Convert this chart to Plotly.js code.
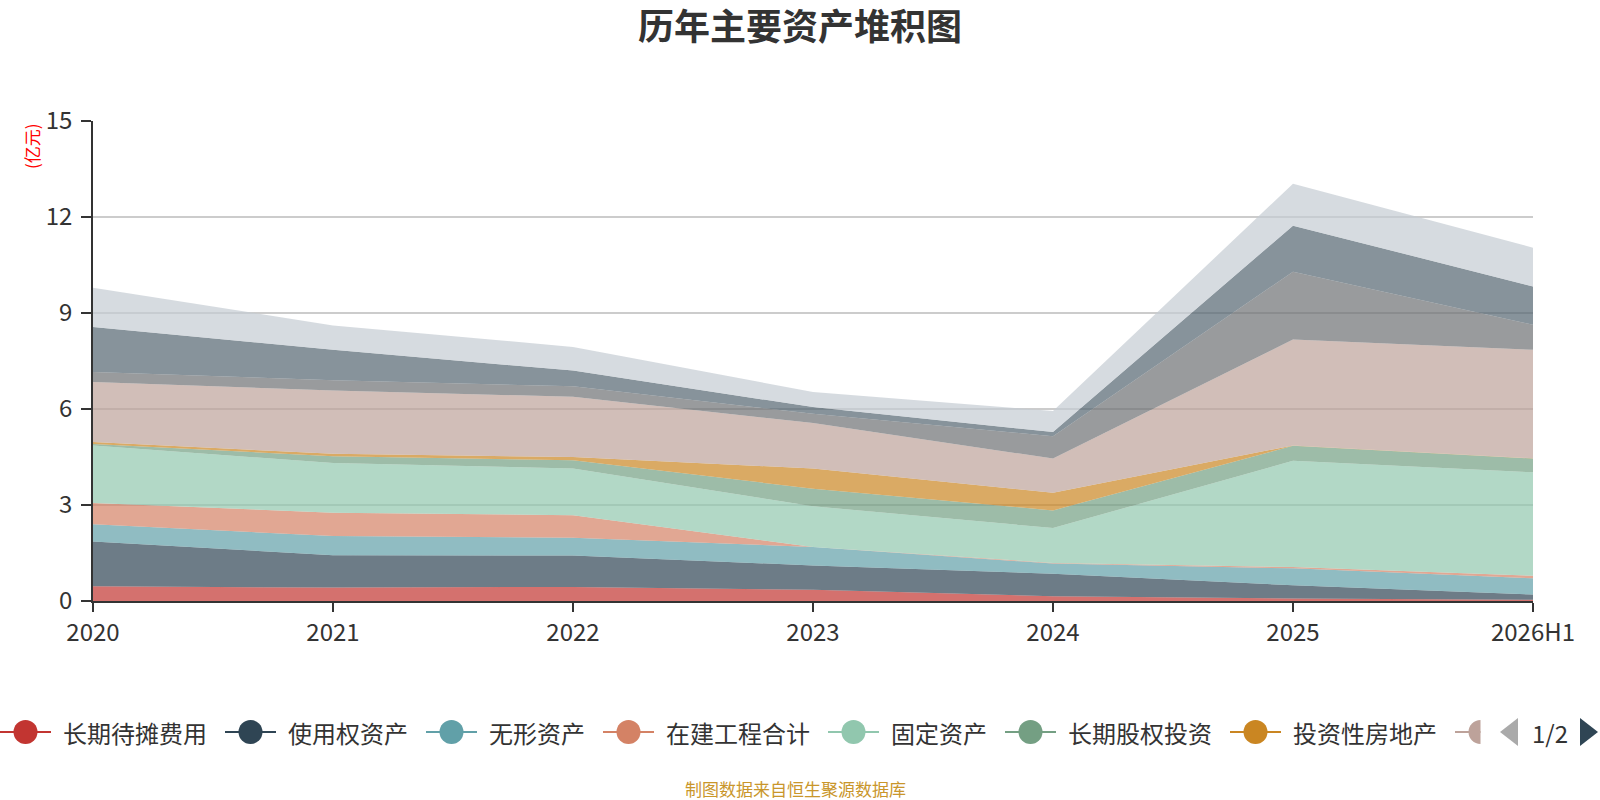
<!DOCTYPE html>
<html>
<head>
<meta charset="utf-8">
<script src="https://cdn.plot.ly/plotly-3.0.1.min.js"></script>
<style>
  body { margin: 0; background: #fff; }
  #chart { width: 1600px; height: 800px; }
</style>
</head>
<body>
<div id="chart"></div>
<script>
// Categories (report periods)
const years = ['2020', '2021', '2022', '2023', '2024', '2025', '2026H1'];

// Series values, 亿元 (bottom of the stack first)
const changQiDaiTan = [0.46, 0.42, 0.44, 0.35, 0.15, 0.08, 0.04];
const shiYongQuan = [1.40, 1.01, 0.98, 0.76, 0.70, 0.41, 0.16];
const wuXing = [0.54, 0.60, 0.56, 0.58, 0.32, 0.53, 0.51];
const zaiJian = [0.66, 0.73, 0.70, 0.00, 0.02, 0.04, 0.08];
const guDing = [1.80, 1.55, 1.46, 1.27, 1.09, 3.32, 3.23];
const guQuanTouZi = [0.05, 0.21, 0.26, 0.55, 0.55, 0.47, 0.43];
const fangDiChan = [0.06, 0.08, 0.10, 0.63, 0.55, 0.01, 0.01];
const cunHuo = [1.87, 1.98, 1.88, 1.42, 1.07, 3.31, 3.39];
const yingShou = [0.32, 0.32, 0.33, 0.29, 0.70, 2.12, 0.78];
const jiaoYiXing = [1.40, 0.95, 0.49, 0.21, 0.13, 1.44, 1.20];
const huoBi = [1.23, 0.76, 0.74, 0.47, 0.66, 1.31, 1.21];

const seriesNames = [
  '长期待摊费用', '使用权资产', '无形资产', '在建工程合计', '固定资产', '长期股权投资',
  '投资性房地产', '存货', '应收账款', '交易性金融资产', '货币资金',
];
const seriesValues = [
  changQiDaiTan, shiYongQuan, wuXing, zaiJian, guDing, guQuanTouZi,
  fangDiChan, cunHuo, yingShou, jiaoYiXing, huoBi,
];
const seriesColors = [
  '#c23531', '#2f4554', '#61a0a8', '#d48265', '#91c7ae', '#749f83',
  '#ca8622', '#bda29a', '#6e7074', '#546570', '#c4ccd3',
];

// Only the first page of the legend is visible in the picture
const legendPageSize = 7;

const fontFamily = '"Noto Sans CJK SC", "Noto Sans", sans-serif';

// plot area in pixels
const marginL = 93, marginR = 67, marginT = 121, marginB = 199;
const plotW = 1600 - marginL - marginR;
const plotH = 800 - marginT - marginB;

// pixel -> paper helpers for the hand made legend
function px2x(px) {
  return (px - marginL) / plotW;
}
function px2y(py) {
  return (800 - marginB - py) / plotH;
}

function hexToRgba(hex, alpha) {
  const n = parseInt(hex.slice(1), 16);
  return 'rgba(' + (n >> 16) + ',' + ((n >> 8) & 255) + ',' + (n & 255) + ',' + alpha + ')';
}

var traces = [];

// Stacked areas
seriesNames.forEach((name, i) => {
  traces.push({
    x: years,
    y: seriesValues[i],
    name: name,
    type: 'scatter',
    mode: 'lines',
    stackgroup: 'assets',
    line: { width: 0, color: seriesColors[i] },
    fillcolor: hexToRgba(seriesColors[i], 0.7),
    showlegend: false,
    hovertemplate: name + ': %{y:.2f}亿元<extra></extra>',
  });
});

/*
  Legend: line + circle icons, paged like the original (page 1 of 2)
*/
var shapes = [];
var annotations = [];
var legendY = 732;
var legendFont = 24;
var iconW = 51;
var circleR = 12;

var cursor = 0;
seriesNames.forEach((name, i) => {
  if (i > legendPageSize) return;
  var cx = cursor + iconW / 2;
  if (i < legendPageSize) {
    shapes.push({
      type: 'line', xref: 'paper', yref: 'paper',
      x0: px2x(cursor), x1: px2x(cursor + iconW), y0: px2y(legendY), y1: px2y(legendY),
      line: { color: seriesColors[i], width: 2 },
    });
    shapes.push({
      type: 'circle', xref: 'paper', yref: 'paper',
      x0: px2x(cx - circleR), x1: px2x(cx + circleR),
      y0: px2y(legendY + circleR), y1: px2y(legendY - circleR),
      fillcolor: seriesColors[i], line: { width: 0 },
    });
    annotations.push({
      text: name, xref: 'paper', yref: 'paper',
      x: px2x(cursor + iconW + 10), y: px2y(legendY),
      xanchor: 'left', yanchor: 'middle', showarrow: false,
      font: { family: fontFamily, size: legendFont, color: '#333333' },
    });
  } else {
    // next item, cut off by the pager
    shapes.push({
      type: 'line', xref: 'paper', yref: 'paper',
      x0: px2x(cursor), x1: px2x(cx), y0: px2y(legendY), y1: px2y(legendY),
      line: { color: seriesColors[i], width: 2 },
    });
    var k = 0.5523;
    var rx = circleR / plotW, ry = circleR / plotH;
    var X = px2x(cx), Y = px2y(legendY);
    shapes.push({
      type: 'path', xref: 'paper', yref: 'paper',
      path: 'M ' + X + ',' + (Y + ry) +
        ' C ' + (X - k * rx) + ',' + (Y + ry) + ' ' + (X - rx) + ',' + (Y + k * ry) + ' ' + (X - rx) + ',' + Y +
        ' C ' + (X - rx) + ',' + (Y - k * ry) + ' ' + (X - k * rx) + ',' + (Y - ry) + ' ' + X + ',' + (Y - ry) + ' Z',
      fillcolor: seriesColors[i], line: { width: 0 },
    });
  }
  cursor += iconW + 10 + name.length * legendFont + 20;
});

// pager arrows
shapes.push({
  type: 'path', xref: 'paper', yref: 'paper',
  path: 'M ' + px2x(1518) + ',' + px2y(legendY - 14) + ' L ' + px2x(1518) + ',' + px2y(legendY + 14) +
    ' L ' + px2x(1500) + ',' + px2y(legendY) + ' Z',
  fillcolor: '#aaaaaa', line: { width: 0 },
});
shapes.push({
  type: 'path', xref: 'paper', yref: 'paper',
  path: 'M ' + px2x(1580) + ',' + px2y(legendY - 14) + ' L ' + px2x(1580) + ',' + px2y(legendY + 14) +
    ' L ' + px2x(1598) + ',' + px2y(legendY) + ' Z',
  fillcolor: '#2f4554', line: { width: 0 },
});
annotations.push({
  text: '1/2', xref: 'paper', yref: 'paper',
  x: px2x(1550), y: px2y(legendY),
  xanchor: 'center', yanchor: 'middle', showarrow: false,
  font: { family: fontFamily, size: legendFont, color: '#333333' },
});

// unit label and source note
annotations.push({
  text: '(亿元)', xref: 'paper', yref: 'paper',
  x: px2x(31), y: px2y(146),
  xanchor: 'center', yanchor: 'middle', textangle: -90, showarrow: false,
  font: { family: fontFamily, size: 17, color: '#ff0000' },
});
annotations.push({
  text: '制图数据来自恒生聚源数据库', xref: 'paper', yref: 'paper',
  x: px2x(795), y: px2y(788),
  xanchor: 'center', yanchor: 'middle', showarrow: false,
  font: { family: fontFamily, size: 17, color: '#c9962b' },
});

var layout = {
  width: 1600,
  height: 800,
  margin: { l: marginL, r: marginR, t: marginT, b: marginB, pad: 0, autoexpand: false },
  paper_bgcolor: '#ffffff',
  plot_bgcolor: '#ffffff',
  font: { family: fontFamily, size: 24, color: '#333333' },
  showlegend: false,
  title: {
    text: '<b>历年主要资产堆积图</b>',
    font: { family: fontFamily, size: 36, color: '#333333' },
    x: 0.5,
    xanchor: 'center',
    y: 1 - 27 / 800,
    yanchor: 'middle',
  },
  xaxis: {
    type: 'category',
    range: [0, 6],
    showgrid: false,
    zeroline: false,
    showline: true,
    linecolor: '#333333',
    linewidth: 1.5,
    ticks: 'outside',
    ticklen: 9,
    tickwidth: 1.5,
    tickcolor: '#333333',
    tickfont: { size: 24, color: '#333333' },
    fixedrange: true,
  },
  yaxis: {
    range: [0, 15],
    dtick: 3,
    showgrid: true,
    gridcolor: '#cccccc',
    gridwidth: 1.5,
    zeroline: false,
    showline: true,
    linecolor: '#333333',
    linewidth: 1.5,
    ticks: 'outside',
    ticklen: 10,
    tickwidth: 1.5,
    tickcolor: '#333333',
    tickfont: { size: 24, color: '#333333' },
    ticklabelstandoff: 4,
    fixedrange: true,
  },
  shapes: shapes,
  annotations: annotations,
};

var config = { responsive: false, displayModeBar: false };

Plotly.newPlot('chart', traces, layout, config);
</script>
</body>
</html>
